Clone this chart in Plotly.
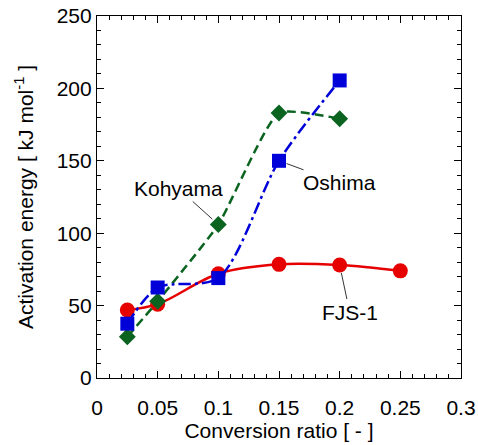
import plotly.graph_objects as go

# Conversion ratio [-]
x_fjs = [0.025, 0.05, 0.1, 0.15, 0.2, 0.25]
e_fjs = [47, 51, 72, 78.5, 78, 74]

x_oshima = [0.025, 0.05, 0.1, 0.15, 0.2]
e_oshima = [37.5, 62.5, 69, 150, 205.5]

x_kohyama = [0.025, 0.05, 0.1, 0.15, 0.2]
e_kohyama = [28.5, 53, 106, 183, 179]

x_ticks = [0, 0.05, 0.1, 0.15, 0.2, 0.25, 0.3]
x_ticklabels = ["0", "0.05", "0.1", "0.15", "0.2", "0.25", "0.3"]
y_ticks = [0, 50, 100, 150, 200, 250]

RED = "#e60000"
BLUE = "#0000d8"
GREEN = "#0a6420"
FONT = "Liberation Sans, Arial, sans-serif"

fig = go.Figure()

fig.add_trace(go.Scatter(
    x=x_fjs, y=e_fjs, mode="lines+markers", name="FJS-1",
    line=dict(color=RED, width=2.5, shape="spline", smoothing=1.0),
    marker=dict(symbol="circle", size=15, color=RED),
))
fig.add_trace(go.Scatter(
    x=x_kohyama, y=e_kohyama, mode="lines+markers", name="Kohyama",
    line=dict(color=GREEN, width=2.5, dash="9px,5px", shape="spline", smoothing=0.5),
    marker=dict(symbol="diamond", size=13, color=GREEN),
))
fig.add_trace(go.Scatter(
    x=x_oshima, y=e_oshima, mode="lines+markers", name="Oshima",
    line=dict(color=BLUE, width=2.5, dash="12px,4px,3px,4px", shape="spline", smoothing=0.8),
    marker=dict(symbol="square", size=14, color=BLUE),
))

# Series labels with leader lines
labels = [
    dict(text="Kohyama", x=0.1, y=e_kohyama[2], ax=-40, ay=-36),
    dict(text="Oshima", x=0.15, y=e_oshima[3], ax=60, ay=22),
    dict(text="FJS-1", x=0.2, y=e_fjs[4], ax=10, ay=47),
]
for lab in labels:
    fig.add_annotation(
        x=lab["x"], y=lab["y"], ax=lab["ax"], ay=lab["ay"],
        text=lab["text"], showarrow=True, arrowhead=0, arrowwidth=0.8,
        arrowcolor="black", standoff=8, startstandoff=0,
        font=dict(family=FONT, size=21, color="black"),
    )

axis_common = dict(
    showgrid=False, zeroline=False, showline=True, linecolor="black", linewidth=1.2,
    mirror="allticks", ticks="inside", ticklen=7, tickwidth=1, tickcolor="black",
    tickfont=dict(family=FONT, size=21, color="black"), automargin=False,
)

fig.update_xaxes(
    range=[0, 0.3], tickvals=x_ticks, ticktext=x_ticklabels, ticklabelstandoff=11,
    minor=dict(ticks="inside", dtick=0.01, ticklen=4, tickcolor="black"),
    title=dict(text="Conversion ratio [ - ]", font=dict(family=FONT, size=21, color="black"), standoff=4),
    **axis_common,
)
fig.update_yaxes(
    range=[0, 250], tickvals=y_ticks,
    minor=dict(ticks="inside", dtick=10, ticklen=4, tickcolor="black"),
    title=dict(text="Activation energy [ kJ mol<sup>-1</sup> ]", font=dict(family=FONT, size=21, color="black"), standoff=17),
    **axis_common,
)

fig.update_layout(
    width=478, height=445,
    margin=dict(l=97, r=17, t=16, b=67),
    paper_bgcolor="white", plot_bgcolor="white",
    showlegend=False,
    font=dict(family=FONT, color="black"),
)

fig.write_html("out.html")
